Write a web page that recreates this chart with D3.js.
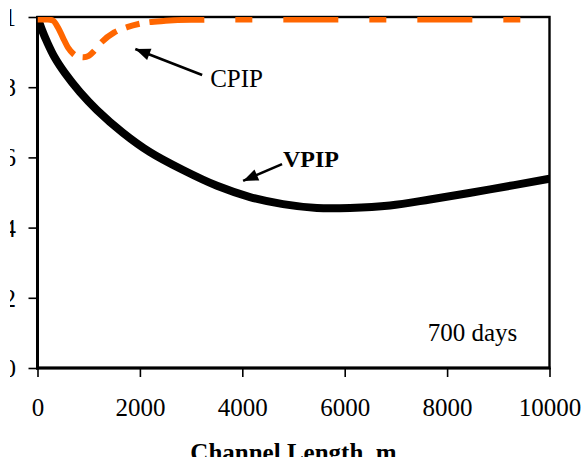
<!DOCTYPE html>
<html>
<head>
<meta charset="utf-8">
<script src="https://cdn.jsdelivr.net/npm/d3@7"></script>
<style>
  html, body { margin: 0; padding: 0; background: #fff; }
  svg { display: block; }
  text { font-family: "Liberation Serif", "Times New Roman", serif; fill: #000; }
</style>
</head>
<body>
<script>
// Channel length (m) and dimensionless productivity along the channel
const vpipLength = [0, 88, 186, 342, 537, 830, 1162, 1670, 2197, 2842, 3506, 4150, 4795, 5459, 6104, 6885, 7666, 8838, 10000];
const vpipValue  = [1.0, 0.963, 0.929, 0.883, 0.840, 0.786, 0.735, 0.670, 0.615, 0.564, 0.519, 0.487, 0.467, 0.456, 0.456, 0.463, 0.480, 0.509, 0.539];

const cpipLength = [0, 200, 300, 400, 500, 600, 700, 800, 900, 1000, 1100, 1250, 1500, 1750, 2000, 2500, 3000, 4000, 6000, 8000, 10000];
const cpipValue  = [0.993, 0.993, 0.99, 0.97, 0.94, 0.912, 0.895, 0.887, 0.885, 0.889, 0.902, 0.928, 0.956, 0.971, 0.981, 0.989, 0.992, 0.993, 0.993, 0.993, 0.993];

const xTicks = [0, 2000, 4000, 6000, 8000, 10000];
const yTicks = [0, 0.2, 0.4, 0.6, 0.8, 1];
const yTickLabels = ["0", "0.2", "0.4", "0.6", "0.8", "1"];

const xTitle = "Channel Length, m";
const periodLabel = "700 days";

// Curve callouts: arrow tail/tip and label anchor in data units
const calloutNames = ["CPIP", "VPIP"];
const calloutTip   = [[1910, 0.909], [4016, 0.533]];
const calloutTail  = [[3216, 0.835], [4776, 0.581]];
const calloutText  = [[3372, 0.80], [4795, 0.573]];
const calloutBold  = [false, true];

const W = 586, H = 457;
const plot = { left: 37.5, right: 549.5, top: 17, bottom: 368 };

const x = d3.scaleLinear().domain([0, 10000]).range([plot.left, plot.right]);
const y = d3.scaleLinear().domain([0, 1]).range([plot.bottom, plot.top]);

const svg = d3.select("body").append("svg")
  .attr("width", W).attr("height", H)
  .attr("viewBox", `0 0 ${W} ${H}`);

const defs = svg.append("defs");
defs.append("clipPath").attr("id", "page-clip")
  .append("rect").attr("x", 10).attr("y", 0).attr("width", W - 10).attr("height", H);
defs.append("clipPath").attr("id", "plot-clip")
  .append("rect")
  .attr("x", plot.left).attr("y", plot.top)
  .attr("width", plot.right - plot.left).attr("height", plot.bottom - plot.top);
defs.append("marker")
  .attr("id", "arrowhead")
  .attr("markerUnits", "userSpaceOnUse")
  .attr("viewBox", "-16 -7 17 14")
  .attr("refX", 0).attr("refY", 0)
  .attr("markerWidth", 17).attr("markerHeight", 14)
  .attr("orient", "auto")
  .append("path").attr("d", "M0,0 L-15,-6 L-15,6 Z").attr("fill", "#000");

const root = svg.append("g").attr("clip-path", "url(#page-clip)");

// Axes
const xAxis = d3.axisBottom(x).tickValues(xTicks).tickFormat(d3.format("d"))
  .tickSize(9).tickSizeOuter(0).tickPadding(21);
const yAxis = d3.axisLeft(y).tickValues(yTicks).tickFormat((d, i) => yTickLabels[i])
  .tickSize(9).tickSizeOuter(0).tickPadding(12.5);

const gx = root.append("g").attr("transform", `translate(0,${plot.bottom})`).call(xAxis);
const gy = root.append("g").attr("transform", `translate(${plot.left},0)`).call(yAxis);

[gx, gy].forEach(g => {
  g.select(".domain").remove();
  g.selectAll(".tick line").attr("stroke", "#000").attr("stroke-width", 1.6);
  g.selectAll(".tick text").attr("font-size", 25).attr("fill", "#000")
    .attr("font-family", "'Liberation Serif', 'Times New Roman', serif");
});
gy.selectAll(".tick text").attr("dy", "0.34em");

// Plot frame
root.append("rect")
  .attr("x", plot.left).attr("y", plot.top)
  .attr("width", plot.right - plot.left).attr("height", plot.bottom - plot.top)
  .attr("fill", "none").attr("stroke", "#000").attr("stroke-width", 2.4);
root.append("line")
  .attr("x1", plot.left).attr("x2", plot.left).attr("y1", plot.top - 1).attr("y2", plot.bottom + 1.5)
  .attr("stroke", "#000").attr("stroke-width", 3);
root.append("line")
  .attr("x1", plot.left - 1.5).attr("x2", plot.right + 1).attr("y1", plot.bottom).attr("y2", plot.bottom)
  .attr("stroke", "#000").attr("stroke-width", 3);

// Series
const smoothLine = d3.line().x(d => x(d[0])).y(d => y(d[1])).curve(d3.curveCatmullRom.alpha(0.5));
const plateauLine = d3.line().x(d => x(d[0])).y(d => y(d[1])).curve(d3.curveMonotoneX);
const lines = root.append("g").attr("clip-path", "url(#plot-clip)");

lines.append("path")
  .datum(vpipLength.map((v, i) => [v, vpipValue[i]]))
  .attr("d", smoothLine)
  .attr("fill", "none").attr("stroke", "#000").attr("stroke-width", 8)
  .attr("stroke-linejoin", "round");

lines.append("path")
  .datum(cpipLength.map((v, i) => [v, cpipValue[i]]))
  .attr("d", plateauLine)
  .attr("fill", "none").attr("stroke", "#FF6600").attr("stroke-width", 6)
  .attr("stroke-linecap", "butt")
  .attr("stroke-dasharray", "56,9,14,11,19,10,14,10,55,31,17,31,55,31,17,31,55,31,17,31,55,31,17,31,55,31,17,31");

// Callouts
calloutNames.forEach((name, i) => {
  root.append("line")
    .attr("x1", x(calloutTail[i][0])).attr("y1", y(calloutTail[i][1]))
    .attr("x2", x(calloutTip[i][0])).attr("y2", y(calloutTip[i][1]))
    .attr("stroke", "#000").attr("stroke-width", 2.6)
    .attr("marker-end", "url(#arrowhead)");
  root.append("text")
    .attr("x", x(calloutText[i][0])).attr("y", y(calloutText[i][1]))
    .attr("font-size", calloutBold[i] ? 24 : 25)
    .attr("font-weight", calloutBold[i] ? "bold" : "normal")
    .text(name);
});

root.append("text")
  .attr("x", x(7622)).attr("y", y(0.077))
  .attr("font-size", 25)
  .text(periodLabel);

// Axis title
root.append("text")
  .attr("x", (plot.left + plot.right) / 2).attr("y", 461)
  .attr("text-anchor", "middle")
  .attr("font-size", 25).attr("font-weight", "bold")
  .text(xTitle);
</script>
</body>
</html>
